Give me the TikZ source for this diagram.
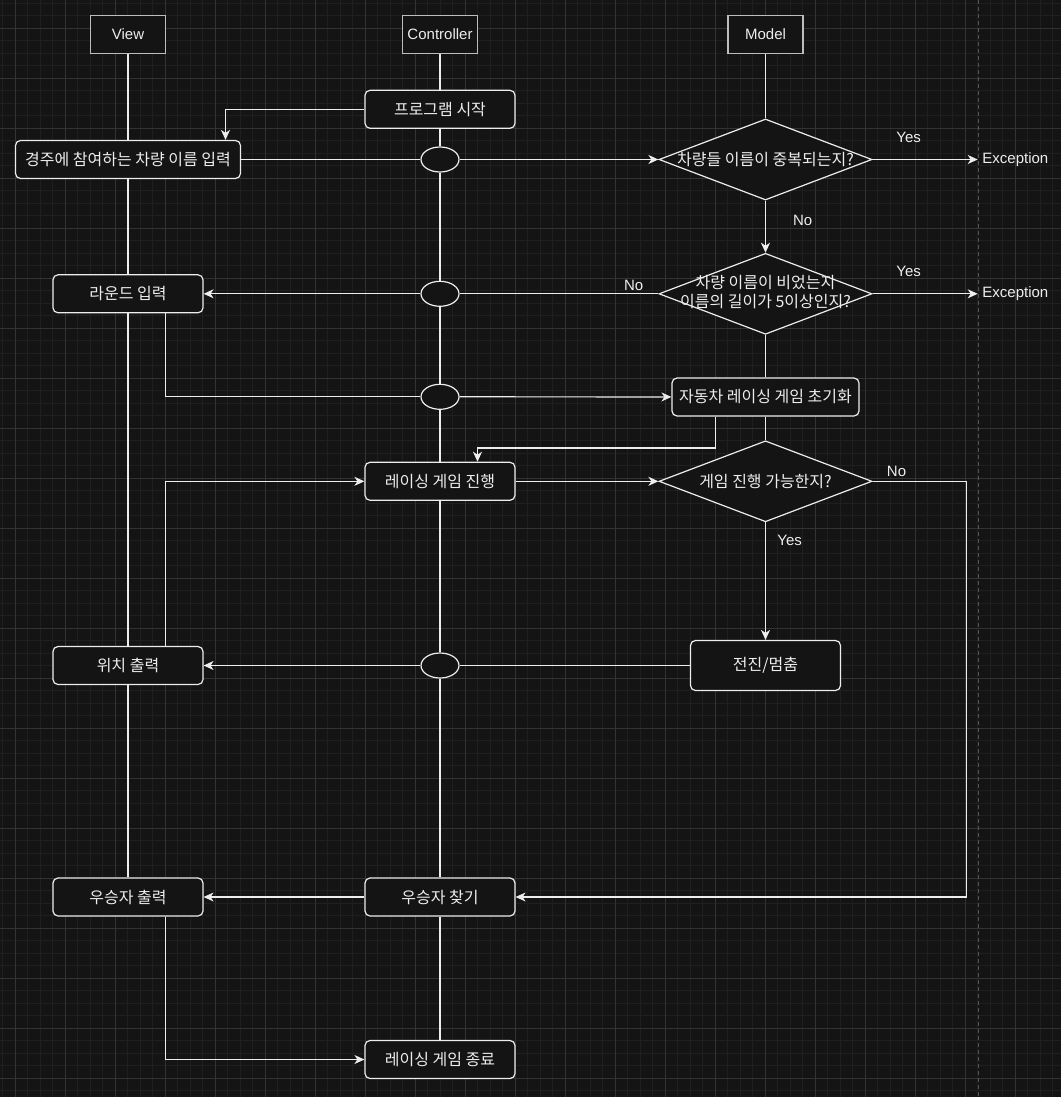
\documentclass[tikz,border=0pt]{standalone}
\usepackage{fontspec}
\setmainfont{Liberation Sans}
\newfontfamily\kr{Noto Sans CJK KR}
\usepackage{tikz}
\usetikzlibrary{shapes.geometric}
\usetikzlibrary{arrows.meta}

\definecolor{bgc}{HTML}{141414}
\definecolor{minorc}{HTML}{1F1F1F}
\definecolor{majorc}{HTML}{333333}
\definecolor{sepc}{HTML}{555555}
\definecolor{fg}{HTML}{EDEDED}
\definecolor{headc}{HTML}{BDBDBD}

\begin{document}
\begin{tikzpicture} [
    x=1pt, y=-1pt,
    every node/.style = {text=fg, font=\fontsize{15}{18}\selectfont},
    head/.style = {draw=headc, fill=bgc, line width=1.2pt, minimum width=75pt, minimum height=38pt},
    box/.style = {draw=fg, fill=bgc, line width=1.2pt, rounded corners=5pt, minimum width=150pt, minimum height=38pt, font=\kr\fontsize{16}{18.3}\selectfont},
    decision/.style = {diamond, draw=fg, fill=bgc, line width=1.2pt, inner sep=0pt, minimum width=213pt, minimum height=81pt, font=\kr\fontsize{16}{18.3}\selectfont},
    joint/.style = {ellipse, draw=fg, fill=bgc, line width=1.2pt, inner sep=0pt, minimum width=38pt, minimum height=25pt},
    link/.style = {draw=fg, line width=1.2pt},
    arrow/.style = {link, -{Stealth[length=10pt, width=9pt, inset=3pt]}},
    lbl/.style = {inner sep=0pt}
]
    \useasboundingbox (0,0) rectangle (1061,1097);
    \fill[bgc] (0,0) rectangle (1061,1097);

    % grid
    \foreach \i in {0,...,84} \draw[minorc, line width=0.8pt] ({2.5+12.5*\i},0) -- ({2.5+12.5*\i},1097);
    \foreach \i in {0,...,87} \draw[minorc, line width=0.8pt] (0,{3.3+12.5*\i}) -- (1061,{3.3+12.5*\i});
    \foreach \i in {0,...,20} \draw[majorc, line width=0.8pt] ({15+50*\i},0) -- ({15+50*\i},1097);
    \foreach \i in {0,...,21} \draw[majorc, line width=0.8pt] (0,{28.3+50*\i}) -- (1061,{28.3+50*\i});
    \draw[sepc, line width=1pt, dash pattern=on 4pt off 3pt] (978,0) -- (978,1097);

    % lanes
    \node [head] (view) at (128,34.3) {View};
    \node [head] (ctrl) at (440,34.3) {Controller};
    \node [head] (model) at (765.5,34.3) {Model};

    % view
    \node [box, minimum width=225pt] (enter) at (128,159.5) {경주에 참여하는 차량 이름 입력};
    \node [box] (round) at (128,293.8) {라운드 입력};
    \node [box] (pos) at (128,665.5) {위치 출력};
    \node [box] (wout) at (128,897) {우승자 출력};

    % controller
    \node [box] (start) at (440,109.3) {프로그램 시작};
    \node [joint] (e1) at (440,159.5) {};
    \node [joint] (e2) at (440,293.8) {};
    \node [joint] (e3) at (440,396.8) {};
    \node [box] (run) at (440,481.3) {레이싱 게임 진행};
    \node [joint] (e4) at (440,665.5) {};
    \node [box] (find) at (440,897) {우승자 찾기};
    \node [box] (end) at (440,1059.5) {레이싱 게임 종료};

    % model
    \node [decision] (dup) at (765.5,159.5) {\makebox[0pt]{차량들 이름이 중복되는지?}};
    \node [decision] (empty) at (765.5,293.8) {\makebox[0pt]{\begin{tabular}{@{}c@{}}차량 이름이 비었는지\\이름의 길이가 5이상인지?\end{tabular}}};
    \node [box, minimum width=187pt] (init) at (765.5,397) {자동차 레이싱 게임 초기화};
    \node [decision] (go) at (765.5,481.3) {\makebox[0pt]{게임 진행 가능한지?}};
    \node [box, minimum height=50pt] (move) at (765.5,665.5) {전진/멈춤};

    \node [anchor=west, inner sep=4.5pt] (exc1) at (977.7,159.5) {Exception};
    \node [anchor=west, inner sep=4.5pt] (exc2) at (977.7,293.8) {Exception};

    % lifelines
    \draw[link] (view) -- (enter) -- (round) -- (pos) -- (wout);
    \draw[link] (ctrl) -- (start) -- (e1) -- (e2) -- (e3) -- (run) -- (e4) -- (find) -- (end);
    \draw[link] (model) -- (dup);
    \draw[link] (empty) -- (init) -- (go);

    % messages
    \draw[arrow] (start) -| ([xshift=97.5pt]enter.north);
    \draw[link] (enter) -- (e1);
    \draw[arrow] (e1) -- (dup);
    \draw[arrow] (dup) -- (exc1);
    \draw[arrow] (dup) -- (empty);
    \draw[arrow] (empty) -- (exc2);
    \draw[link] (empty) -- (e2);
    \draw[arrow] (e2) -- (round);
    \draw[link] ([xshift=37.5pt]round.south) |- (e3);
    \draw[arrow] (e3) -- (init);
    \draw[arrow] ([xshift=-50pt]init.south) -- ++(0,31.3) -| ([xshift=37.5pt]run.north);
    \draw[arrow] (run) -- (go);
    \draw[arrow] (go) -- (move);
    \draw[arrow] (go.east) -- ++(94,0) |- (find);
    \draw[link] (move) -- (e4);
    \draw[arrow] (e4) -- (pos);
    \draw[arrow] ([xshift=37.5pt]pos.north) |- (run);
    \draw[arrow] (find) -- (wout);
    \draw[arrow] ([xshift=37.5pt]wout.south) |- (end);

    % labels
    \node [lbl] (y1) at (908.6,137.7) {Yes};
    \node [lbl] (n1) at (802.6,220) {No};
    \node [lbl] (y2) at (908.6,271.7) {Yes};
    \node [lbl] (n2) at (633.6,285) {No};
    \node [lbl] (n3) at (896.5,471.7) {No};
    \node [lbl] (y3) at (789.7,540.7) {Yes};
\end{tikzpicture}
\end{document}
